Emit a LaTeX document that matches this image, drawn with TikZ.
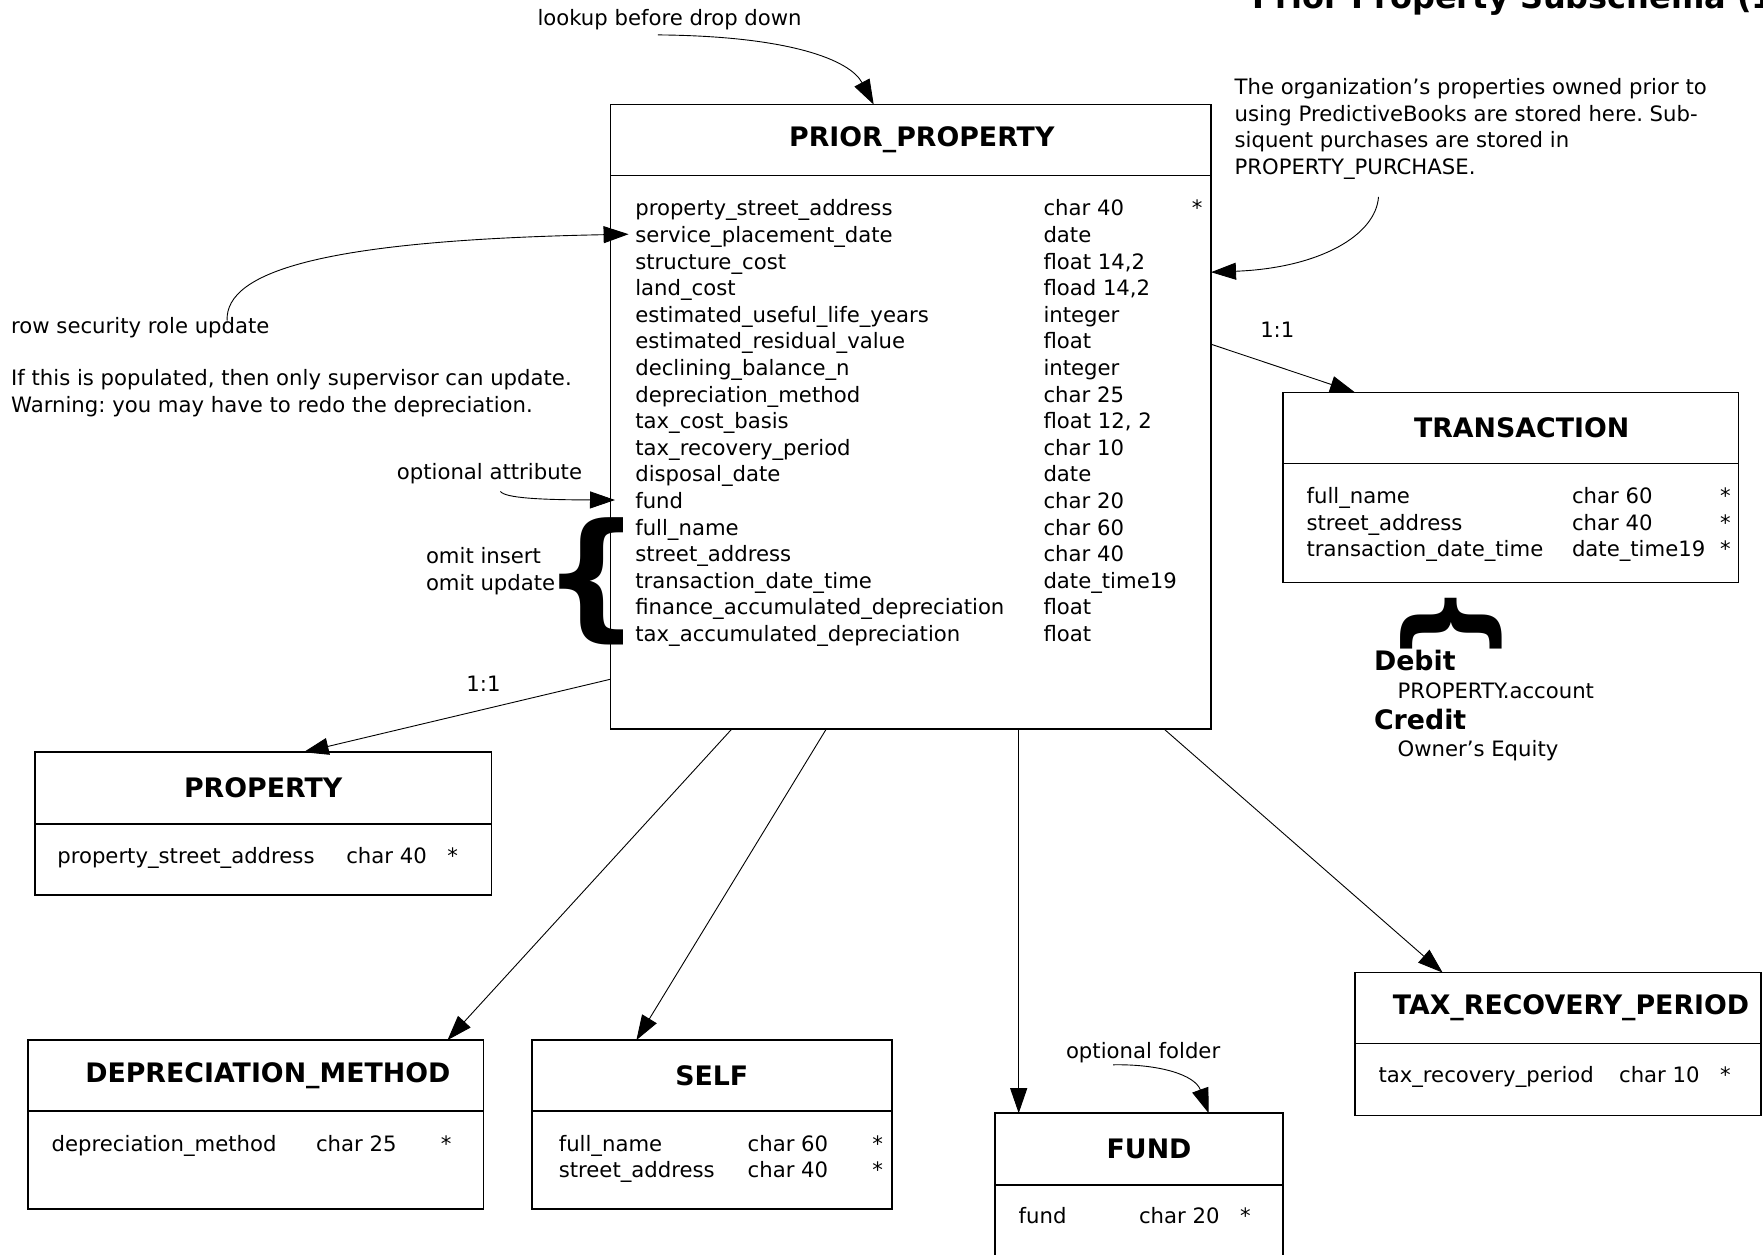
\documentclass[tikz,border=0pt]{standalone}
\usepackage{fontspec}
\setmainfont{DejaVu Sans}
\usetikzlibrary{positioning,calc,arrows.meta}
\frenchspacing

\newcommand\bodyfont{\fontsize{10.6pt}{13.3pt}\selectfont}
\newcommand\headfont{\fontsize{13.4pt}{16pt}\selectfont\bfseries}

\begin{document}
\begin{tikzpicture}[
    x=0.5pt, y=-0.5pt,
    every node/.style={inner sep=0pt, outer sep=0pt, font=\bodyfont},
    enthead/.style={draw, line width=0.8pt, anchor=north west, minimum height=35.5pt, font=\headfont},
    entbody/.style={draw, line width=0.8pt},
    attrs/.style={anchor=north west},
    note/.style={anchor=base west},
    link/.style={line width=0.45pt, -{Triangle[length=12.5pt,width=8.5pt]}}
]
\useasboundingbox (0,0) rectangle (1763,1254);

% title, cut by the page edge
\node[note, font=\fontsize{16pt}{19pt}\selectfont\bfseries] (title) at (1252,8) {Prior Property Subschema (1};

% main entity
\node[enthead, minimum width=300.2pt] (priorH) at (610.6,104.6) {\hspace*{11pt}PRIOR\_PROPERTY};
\node[entbody, minimum width=300.2pt, minimum height=276.6pt, below=0pt of priorH] (prior) {};
\node[attrs] (priorA) at ($(prior.north west)+(24.7,21.6)$) {\begin{tabular}{@{}p{204.1pt}@{}p{74.2pt}@{}l@{}}
property\_street\_address & char 40 & *\\
service\_placement\_date & date & \\
structure\_cost & float 14,2 & \\
land\_cost & fload 14,2 & \\
estimated\_useful\_life\_years & integer & \\
estimated\_residual\_value & float & \\
declining\_balance\_n & integer & \\
depreciation\_method & char 25 & \\
tax\_cost\_basis & float 12, 2 & \\
tax\_recovery\_period & char 10 & \\
disposal\_date & date & \\
fund & char 20 & \\
full\_name & char 60 & \\
street\_address & char 40 & \\
transaction\_date\_time & date\_time19 & \\
finance\_accumulated\_depreciation & float & \\
tax\_accumulated\_depreciation & float &
\end{tabular}};

% related entities
\node[enthead, minimum width=227.7pt] (transH) at (1283,392.4) {\hspace*{11pt}TRANSACTION};
\node[entbody, minimum width=227.7pt, minimum height=59.55pt, below=0pt of transH] (trans) {};
\node[attrs] (transA) at ($(trans.north west)+(23.6,21.5)$) {\begin{tabular}{@{}p{132.7pt}@{}p{74pt}@{}l@{}}
full\_name & char 60 & *\\
street\_address & char 40 & *\\
transaction\_date\_time & date\_time19 & *
\end{tabular}};

\node[enthead, minimum width=228.25pt, minimum height=36pt] (propH) at (34.9,752.2) {PROPERTY};
\node[entbody, minimum width=228.25pt, minimum height=35.4pt, below=0pt of propH] (prop) {};
\node[attrs] (propA) at ($(prop.north west)+(22.4,20.4)$) {\begin{tabular}{@{}p{144.5pt}@{}p{50.6pt}@{}l@{}}
property\_street\_address & char 40 & *
\end{tabular}};

\node[enthead, minimum width=227.7pt] (dmH) at (28.1,1040.1) {\hspace*{12pt}DEPRECIATION\_METHOD};
\node[entbody, minimum width=227.7pt, minimum height=48.9pt, below=0pt of dmH] (dm) {};
\node[attrs] (dmA) at ($(dm.north west)+(23.6,21.6)$) {\begin{tabular}{@{}p{132.15pt}@{}p{62.4pt}@{}l@{}}
depreciation\_method & char 25 & *
\end{tabular}};

\node[enthead, minimum width=179.95pt] (selfH) at (531.8,1040.1) {SELF};
\node[entbody, minimum width=179.95pt, minimum height=48.9pt, below=0pt of selfH] (self) {};
\node[attrs] (selfA) at ($(self.north west)+(27,21.6)$) {\begin{tabular}{@{}p{94.45pt}@{}p{62.4pt}@{}l@{}}
full\_name & char 60 & *\\
street\_address & char 40 & *
\end{tabular}};

\node[enthead, minimum width=143.95pt, minimum height=36pt] (fundH) at (995.1,1113.2) {\hspace*{10pt}FUND};
\node[entbody, minimum width=143.95pt, minimum height=48.9pt, below=0pt of fundH] (fund) {};
\node[attrs] (fundA) at ($(fund.north west)+(23.6,19.4)$) {\begin{tabular}{@{}p{60.15pt}@{}p{50.6pt}@{}l@{}}
fund & char 20 & *
\end{tabular}};

\node[enthead, minimum width=203pt] (taxH) at (1355,972.6) {\hspace*{13pt}TAX\_RECOVERY\_PERIOD};
\node[entbody, minimum width=203pt, minimum height=35.95pt, below=0pt of taxH] (tax) {};
\node[attrs] (taxA) at ($(tax.north west)+(23.5,20.4)$) {\begin{tabular}{@{}p{120.3pt}@{}p{50.45pt}@{}l@{}}
tax\_recovery\_period & char 10 & *
\end{tabular}};

% relationships
\draw[link] ($(prior.north east)+(0,168.6)$) -- ($(transH.north west)+(72,0)$);
\node[anchor=base] (oneTrans) at (1277.3,337.6) {1:1};
\draw[link] ($(prior.south west)+(0,-49.6)$) -- ($(propH.north west)+(268.7,0)$);
\node[anchor=base] (oneProp) at (483.5,691.8) {1:1};
\draw[link] ($(prior.south west)+(121.4,0)$) -- ($(dmH.north west)+(419.4,0)$);
\draw[link] ($(prior.south west)+(215.8,0)$) -- ($(selfH.north west)+(104.6,0)$);
\draw[link] ($(prior.south west)+(408.1,0)$) -- ($(fundH.north west)+(23.6,0)$);
\draw[link] ($(prior.south west)+(553.2,0)$) -- ($(taxH.north west)+(87.6,0)$);

% notes
\node[note] (lookup) at (537.5,25) {lookup before drop down};
\coordinate (lookupS) at (657.8,34.9);
\draw[link] (lookupS) .. controls (790,36) and (850,60) .. ($(priorH.north west)+(263.1,0)$);

\node[anchor=north west, align=left] (scope) at (1234.6,78.6) {The organization’s properties owned prior to\\using PredictiveBooks are stored here. Sub-\\siquent purchases are stored in\\PROPERTY\_PURCHASE.};
\coordinate (scopeS) at (1378.5,196.8);
\draw[link] (scopeS) .. controls (1376,235) and (1320,268) .. ($(prior.north east)+(0,96.6)$);

\node[note] (rowsec) at (11.2,333) {row security role update};
\coordinate (rowsecS) at (227.1,320.5);
\draw[link] (rowsecS) .. controls (225,270) and (330,240) .. ($(prior.north west)+(18,58.6)$);
\node[anchor=north west, align=left] (warn) at (11.2,369.8) {If this is populated, then only supervisor can update.\\Warning: you may have to redo the depreciation.};

\node[note] (optattr) at (396.9,479) {optional attribute};
\coordinate (optattrS) at (500.4,491.4);
\draw[link] (optattrS) .. controls (505,498) and (540,499.8) .. ($(prior.north west)+(4.4,324.4)$);

\node[anchor=north west, align=left] (omit) at (426,547.5) {omit insert\\omit update};
\node[font=\fontsize{69pt}{69pt}\selectfont\bfseries] (omitBrace) at (591.5,581) {\{};

\node[note] (optfolder) at (1066,1058.5) {optional folder};
\coordinate (folderS) at (1113.2,1064.8);
\draw[link] (folderS) .. controls (1160,1064) and (1195,1075) .. ($(fundH.north west)+(213.6,0)$);

% posting under TRANSACTION
\node[font=\fontsize{55pt}{55pt}\selectfont\bfseries, rotate=-90] (postBrace) at (1451,624) {\{};
\node[note, font=\headfont] (debit) at (1374,670.4) {Debit};
\node[note] (debitAcc) at (1397.6,698.5) {PROPERTY.account};
\node[note, font=\headfont] (credit) at (1374,729) {Credit};
\node[note] (creditAcc) at (1397.6,756) {Owner’s Equity};
\end{tikzpicture}
\end{document}
